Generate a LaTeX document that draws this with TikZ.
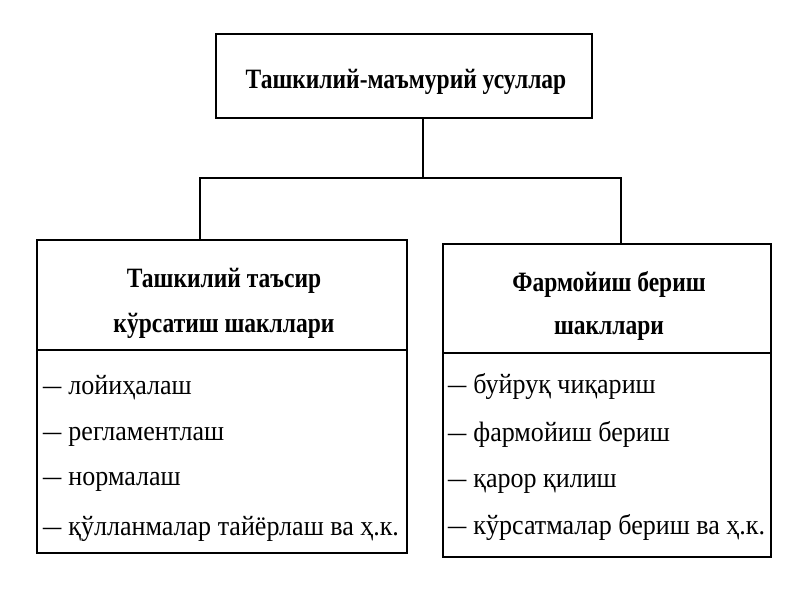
\documentclass[tikz,border=0pt]{standalone}
\usepackage{fontspec}
\usepackage{graphicx}
\setmainfont{Liberation Serif}
\newfontfamily\hfont{Liberation Serif}[FakeStretch=0.84]
\newfontfamily\lfont{Liberation Serif}[FakeStretch=0.93]
\newcommand{\dsh}{\scalebox{1.4}[1]{–}\hspace{7pt}}
\begin{document}
\begin{tikzpicture}[x=1pt,y=-1pt,
  frame/.style={draw=black, line width=2pt, rectangle, inner sep=0pt},
  htext/.style={align=center, inner sep=0pt, font=\hfont\bfseries\fontsize{28}{45}\selectfont},
  item/.style={anchor=base west, inner sep=0pt, font=\lfont\fontsize{28}{32}\selectfont},
  link/.style={draw=black, line width=1.6pt}]
\useasboundingbox[fill=white] (0,0) rectangle (800,600);
% top box
\node[frame, minimum width=376pt, minimum height=84pt] (top) at (404,76) {};
\node[htext, anchor=base] (toptext) at (406,88) {Ташкилий-маъмурий усуллар};
% left box
\node[frame, minimum width=370pt, minimum height=110pt] (lhead) at (222,295) {};
\node[htext, anchor=base] (lht1) at (224,287) {Ташкилий таъсир};
\node[htext, anchor=base] (lht2) at (224,332) {кўрсатиш шакллари};
\node[frame, minimum width=370pt, minimum height=203pt] (llist) at (222,451.5) {};
% right box
\node[frame, minimum width=328pt, minimum height=109pt] (rhead) at (607,298.5) {};
\node[htext, anchor=base] (rht1) at (609,291) {Фармойиш бериш};
\node[htext, anchor=base] (rht2) at (609,334) {шакллари};
\node[frame, minimum width=328pt, minimum height=204pt] (rlist) at (607,455) {};
% connectors
\coordinate (j) at (423,178);
\coordinate (lj) at (200,178);
\coordinate (rj) at (621,178);
\draw[link] (top.south -| j) -- (j);
\draw[link] (lj |- lhead.north) -- (lj) -- (rj) -- (rj |- rhead.north);
% list items
\node[item] (l1) at (43,394) {\dsh лойиҳалаш};
\node[item] (l2) at (43,440) {\dsh регламентлаш};
\node[item] (l3) at (43,485) {\dsh нормалаш};
\node[item] (l4) at (43,535) {\dsh қўлланмалар тайёрлаш ва ҳ.к.};
\node[item] (r1) at (448,393) {\dsh буйруқ чиқариш};
\node[item] (r2) at (448,441) {\dsh фармойиш бериш};
\node[item] (r3) at (448,487) {\dsh қарор қилиш};
\node[item] (r4) at (448,534) {\dsh кўрсатмалар бериш ва ҳ.к.};
\end{tikzpicture}
\end{document}
